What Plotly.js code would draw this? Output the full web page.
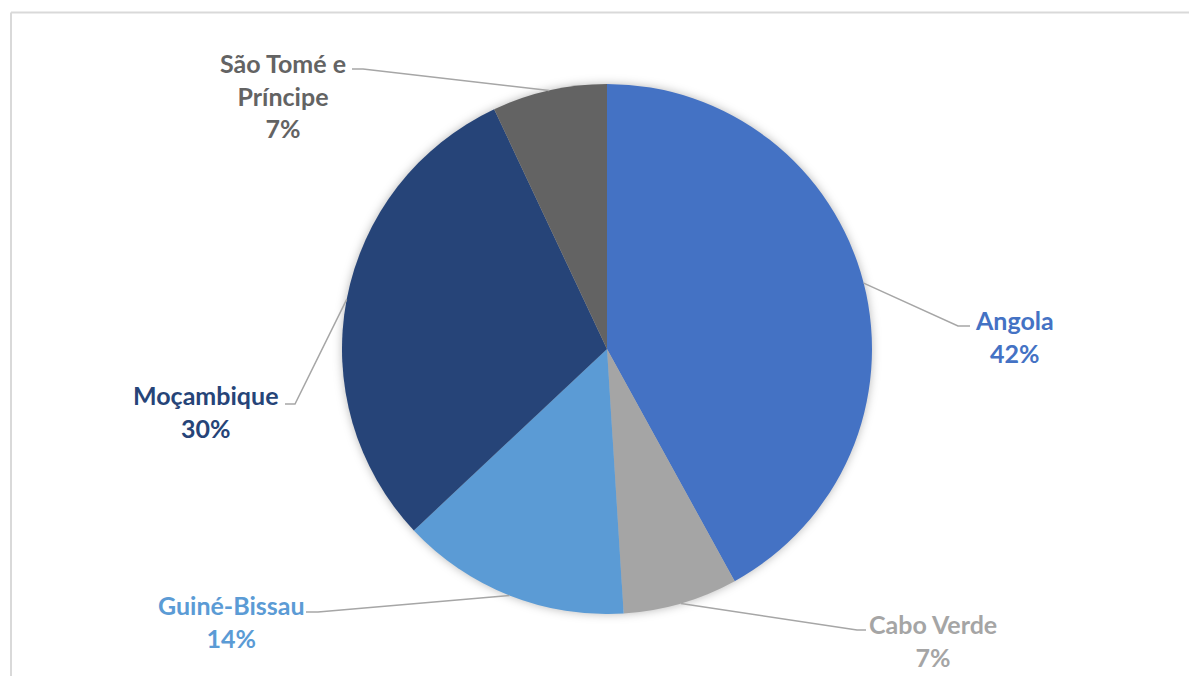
<!DOCTYPE html>
<html>
<head>
<meta charset="utf-8">
<script src="https://cdn.plot.ly/plotly-3.0.1.min.js"></script>
<style>
  html, body { margin: 0; padding: 0; background: #fff; }
  #chart { width: 1189px; height: 676px; }
  .pielayer { filter: drop-shadow(0px 0px 5px rgba(0,0,0,0.28)); }
</style>
</head>
<body>
<div id="chart"></div>
<script>
// ---- data ----
const categories = ["Angola", "Cabo Verde", "Guiné-Bissau", "Moçambique", "São Tomé e<br>Príncipe"];
const shares = [42, 7, 14, 30, 7];
const colors = ["#4472C4", "#A5A5A5", "#5B9BD5", "#264478", "#636363"];

// ---- layout constants (pixels) ----
const W = 1189, H = 676;
const CX = 607, CY = 349, R = 265;
// label centres and leader-line knees
const labelPos = [[1014, 336], [933, 640], [231, 621], [205, 411], [283, 95]];
const kneeEnd = [[970, 326], [866, 630], [306, 612], [285, 404], [352, 69]];
const kneeMid = [[958, 326], [857, 630], [318, 612], [295, 404], [363, 69]];

const px = x => x / W;
const py = y => 1 - y / H;

const total = shares.reduce((a, b) => a + b, 0);
let cum = 0;
const shapes = [];
const annotations = [];
shares.forEach((v, i) => {
  const mid = (cum + v / 2) / total * 2 * Math.PI;
  cum += v;
  const ex = CX + R * Math.sin(mid);
  const ey = CY - R * Math.cos(mid);
  shapes.push({
    type: 'path', xref: 'paper', yref: 'paper',
    path: `M ${px(ex)},${py(ey)} L ${px(kneeMid[i][0])},${py(kneeMid[i][1])} L ${px(kneeEnd[i][0])},${py(kneeEnd[i][1])}`,
    line: { color: '#A6A6A6', width: 1.5 }
  });
  annotations.push({
    xref: 'paper', yref: 'paper',
    x: px(labelPos[i][0]), y: py(labelPos[i][1]),
    xanchor: 'center', yanchor: 'middle', align: 'center',
    showarrow: false,
    text: `<b>${categories[i]}<br>${Math.round(v / total * 100)}%</b>`,
    font: { family: 'Lato, "Open Sans", sans-serif', size: 25, color: colors[i] }
  });
});

// chart border (top and left visible)
shapes.push({ type: 'line', xref: 'paper', yref: 'paper', x0: px(11), x1: 1.01, y0: py(12.5), y1: py(12.5), line: { color: '#D9D9D9', width: 2 } });
shapes.push({ type: 'line', xref: 'paper', yref: 'paper', x0: px(11), x1: px(11), y0: py(12.5), y1: -0.01, line: { color: '#D9D9D9', width: 2 } });

const trace = {
  type: 'pie',
  labels: categories,
  values: shares,
  sort: false,
  direction: 'clockwise',
  rotation: 0,
  marker: { colors: colors, line: { width: 0 } },
  textinfo: 'none',
  hoverinfo: 'label+percent',
  domain: { x: [px(CX - R), px(CX + R)], y: [py(CY + R), py(CY - R)] }
};

Plotly.newPlot('chart', [trace], {
  width: W, height: H,
  margin: { l: 0, r: 0, t: 0, b: 0 },
  showlegend: false,
  paper_bgcolor: '#FFFFFF',
  shapes: shapes,
  annotations: annotations
}, { displayModeBar: false, staticPlot: true });
</script>
</body>
</html>
